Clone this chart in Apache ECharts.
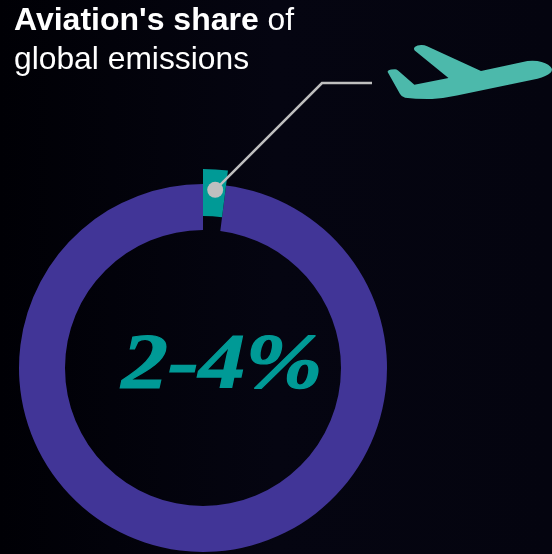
<!DOCTYPE html>
<html>
<head>
<meta charset="utf-8">
<style>
html,body{margin:0;padding:0;width:552px;height:554px;overflow:hidden;background:#04040f}
#chart{width:552px;height:554px}
</style>
<script src="https://cdn.jsdelivr.net/npm/echarts@6/dist/echarts.min.js"></script>
</head>
<body>
<div id="chart"></div>
<script>
// Share of global emissions, in percent
const categories = ['Aviation', 'Other sources'];
const shareValues = [2, 98];
const headlineBold = "Aviation's share";
const headlineRest = ' of';
const headlineSecond = 'global emissions';
const rangeLabel = '2-4%';

const INK_TEAL = '#009a96';
const RING = '#413597';
const PLANE = '#4cb9ab';
const LEADER = '#bfbfbf';
const CX = 203, CY = 368;

const chart = echarts.init(document.getElementById('chart'), null, {renderer: 'canvas'});

// Leader dot sits in the middle of the raised slice
const midAngle = (shareValues[0] / (shareValues[0] + shareValues[1])) * Math.PI;
const dotR = 178.5;
const dotX = CX + dotR * Math.sin(midAngle) + 1;
const dotY = CY - dotR * Math.cos(midAngle);

const ringData = (fillFirst, fillSecond) => categories.map((name, i) => ({
  name,
  value: shareValues[i],
  itemStyle: {color: i === 0 ? fillFirst : fillSecond}
}));

const pieBase = {
  type: 'pie',
  center: [CX, CY],
  startAngle: 90,
  clockwise: true,
  silent: true,
  animation: false,
  label: {show: false},
  labelLine: {show: false},
  avoidLabelOverlap: false
};

// Airliner silhouette, climbing to the right
const planePath = 'M387.5 71.5 Q388 69.5 391 69.2 L395 69 Q396.5 69 398 70.2 L414.3 84.3 L448.3 77.7 ' +
  'L414.6 50.5 Q413 48.5 415 46.8 Q417 45.4 421 45.2 Q424 45 427 46.4 L480.7 70.7 L527 61 ' +
  'Q532 60.3 537 61 Q546 62.5 550 66.5 Q553 69.5 550 72.5 Q546 76 537 78.5 L456.7 95 ' +
  'Q445 97.6 432 98.3 Q417 98.6 405 97 Q401.5 96.5 400 93.5 Z';

chart.setOption({
  backgroundColor: {
    type: 'linear', x: 0, y: 0, x2: 1, y2: 0,
    colorStops: [
      {offset: 0, color: '#000005'},
      {offset: 0.5, color: '#050511'},
      {offset: 1, color: '#04040f'}
    ]
  },
  animation: false,
  series: [
    Object.assign({}, pieBase, {radius: [138, 184], data: ringData('transparent', RING)}),
    Object.assign({}, pieBase, {radius: [152, 199], data: ringData(INK_TEAL, 'transparent')}),
    {
      type: 'custom',
      coordinateSystem: 'none',
      silent: true,
      data: [[0]],
      renderItem: () => ({
        type: 'path',
        shape: {pathData: planePath, layout: 'cover', x: 387.5, y: 45, width: 164.5, height: 54},
        style: {fill: PLANE}
      })
    }
  ],
  graphic: [
    {
      type: 'text', x: 14, y: 2, z: 10,
      style: {
        text: '{b|' + headlineBold + '}{r|' + headlineRest + '}\n{r|' + headlineSecond + '}',
        rich: {
          b: {font: 'bold 32px "Liberation Sans"', fill: '#ffffff', lineHeight: 39},
          r: {font: '31.8px "Liberation Sans"', fill: '#ffffff', lineHeight: 39}
        }
      }
    },
    {
      type: 'polyline', z: 10,
      shape: {points: [[dotX, dotY], [322, 83], [372, 83]]},
      style: {stroke: LEADER, lineWidth: 2.5, fill: null}
    },
    {
      type: 'circle', z: 11,
      shape: {cx: dotX, cy: dotY, r: 8},
      style: {fill: LEADER}
    },
    {
      type: 'text', x: 222, y: 366.5, scaleX: 1.19, z: 10,
      style: {
        text: rangeLabel,
        font: 'italic bold 78px "Liberation Serif"',
        fill: INK_TEAL,
        stroke: INK_TEAL,
        lineWidth: 1.2,
        align: 'center',
        verticalAlign: 'middle'
      }
    }
  ]
});
</script>
</body>
</html>
